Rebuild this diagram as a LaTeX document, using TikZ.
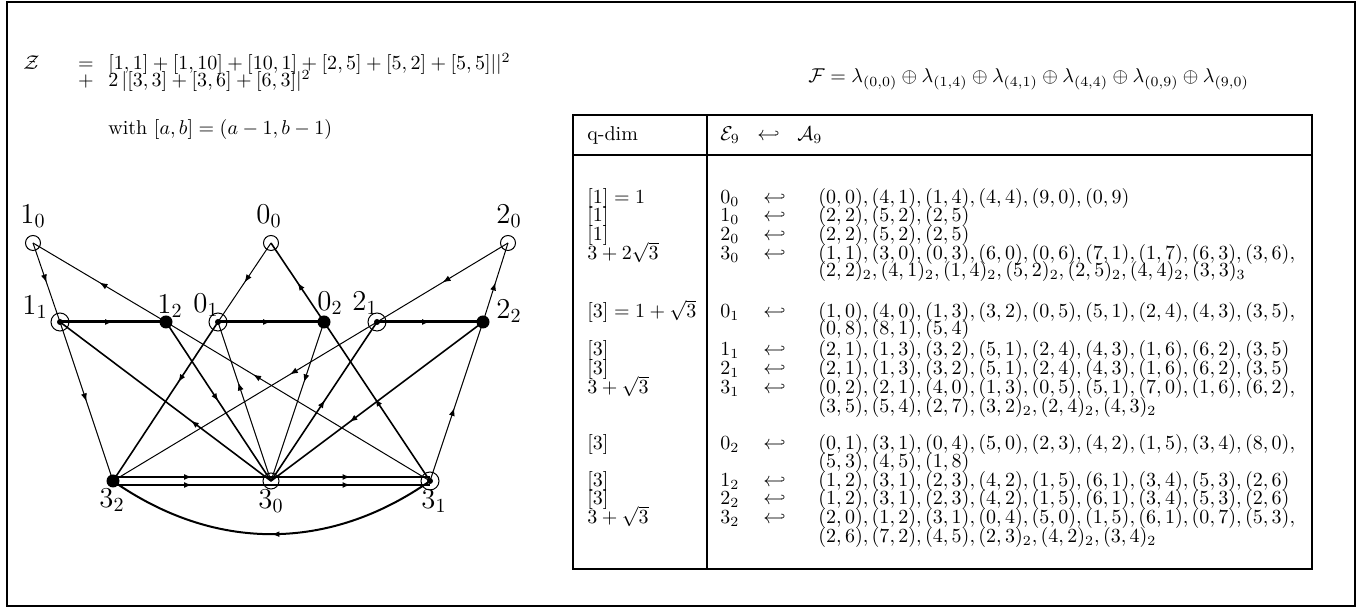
\documentclass[tikz,border=0pt]{standalone}
\usepackage{amsmath,amssymb}
\usetikzlibrary{arrows.meta,decorations.markings}

\tikzset{
  ring/.style={circle,draw,line width=0.5pt,minimum size=7.5pt,inner sep=0pt},
  ringdot/.style={ring,minimum size=9pt,
    path picture={\fill (path picture bounding box.center) circle (1.5pt);}},
  blob/.style={circle,fill,minimum size=6.5pt,inner sep=0pt},
  lab/.style={font=\Large,inner sep=0pt},
  row/.style={anchor=base west,inner sep=0pt},
  midarrow/.style={decoration={markings,
      mark=at position #1 with {\arrow{Latex[length=4pt,width=3pt]}}},
    postaction={decorate}},
  midarrow/.default=0.5,
  thinedge/.style={line width=0.5pt},
  mededge/.style={line width=0.8pt},
  hedge/.style={line width=1.5pt},
}

\begin{document}
\begin{tikzpicture}[x=0.5pt,y=-0.5pt]
  % Page frame (coordinates are pixels of the figure, y downwards).
  \useasboundingbox (0,0) rectangle (1356,613);
  \draw[line width=1pt] (7,2) rectangle (1355,606);

  % Partition function.
  \node[row] (zlhs) at (23,70) {$\mathcal{Z}$};
  \node[anchor=base,inner sep=0pt] (zeq) at (86,70) {$=$};
  \node[row] (zrhs) at (108,70) {$[1,1]+[1,10]+[10,1]+[2,5]+[5,2]+[5,5]||^2$};
  \node[anchor=base,inner sep=0pt] (zplus) at (86,87) {$+$};
  \node[row] (zrhs2) at (108,87) {$2\,|[3,3]+[3,6]+[6,3]|^2$};
  \node[row] (zwith) at (108,135) {with $[a,b]=(a-1,b-1)$};

  % Vertices of the graph.
  \node[ring] (n10) at (33,243) {};
  \node[ring] (n00) at (271,243) {};
  \node[ring] (n20) at (508,243) {};
  \node[ringdot] (n11) at (60,322) {};
  \node[blob] (n12) at (166,322) {};
  \node[ringdot] (n01) at (218,322) {};
  \node[blob] (n02) at (324,322) {};
  \node[ringdot] (n21) at (377,322) {};
  \node[blob] (n22) at (483,322) {};
  \node[blob] (n32) at (113,481) {};
  \node[ring,minimum size=8pt] (n30) at (271,481) {};
  \node[ringdot] (n31) at (430,481) {};

  % Vertex labels.
  \node[lab] (l10) at (33,216) {$1_0$};
  \node[lab] (l00) at (269,216) {$0_0$};
  \node[lab] (l20) at (509,216) {$2_0$};
  \node[lab] (l11) at (35,307) {$1_1$};
  \node[lab] (l12) at (170,306) {$1_2$};
  \node[lab] (l01) at (206,305) {$0_1$};
  \node[lab] (l02) at (330,303) {$0_2$};
  \node[lab] (l21) at (365,303) {$2_1$};
  \node[lab] (l22) at (509,311) {$2_2$};
  \node[lab] (l32) at (112,500) {$3_2$};
  \node[lab] (l30) at (271,501) {$3_0$};
  \node[lab] (l31) at (434,501) {$3_1$};

  % Top triangles.
  \draw[thinedge,midarrow] (n10.center) -- (n11.center);
  \draw[thinedge,midarrow] (n12.center) -- (n10.center);
  \draw[thinedge,midarrow] (n00.center) -- (n01.center);
  \draw[mededge,midarrow] (n02.center) -- (n00.center);
  \draw[thinedge,midarrow] (n20.center) -- (n21.center);
  \draw[thinedge,midarrow] (n22.center) -- (n20.center);

  % Middle row.
  \draw[hedge,midarrow] (n11.center) -- (n12.center);
  \draw[hedge,midarrow] (n01.center) -- (n02.center);
  \draw[hedge,midarrow] (n21.center) -- (n22.center);

  % Crossing edges to and from the bottom row.
  \draw[thinedge,midarrow] (n11.center) -- (n32.center);
  \draw[mededge,midarrow=0.38] (n01.center) -- (n32.center);
  \draw[thinedge,midarrow=0.33] (n21.center) -- (n32.center);
  \draw[thinedge,midarrow=0.67] (n31.center) -- (n12.center);
  \draw[mededge,midarrow=0.52] (n31.center) -- (n02.center);
  \draw[thinedge,midarrow=0.46] (n31.center) -- (n22.center);
  \draw[mededge,midarrow=0.38] (n30.center) -- (n11.center);
  \draw[mededge,midarrow] (n12.center) -- (n30.center);
  \draw[thinedge,midarrow=0.62] (n30.center) -- (n01.center);
  \draw[thinedge,midarrow=0.38] (n02.center) -- (n30.center);
  \draw[mededge,midarrow=0.51] (n30.center) -- (n21.center);
  \draw[mededge,midarrow=0.63] (n22.center) -- (n30.center);

  % Bottom row: double edges and the return arc.
  \draw[mededge,midarrow] ([yshift=2pt]n32.center) -- ([yshift=2pt]n30.center);
  \draw[mededge,midarrow] ([yshift=-2pt]n32.center) -- ([yshift=-2pt]n30.center);
  \draw[mededge,midarrow] ([yshift=2pt]n30.center) -- ([yshift=2pt]n31.center);
  \draw[mededge,midarrow] ([yshift=-2pt]n30.center) -- ([yshift=-2pt]n31.center);
  \draw[line width=1pt,midarrow] (n31.center) to[bend left=35] (n32.center);

  % Fusion rule.
  \node[row] (frule) at (808,83) {$\mathcal{F}=\lambda_{(0,0)}\oplus\lambda_{(1,4)}\oplus\lambda_{(4,1)}\oplus\lambda_{(4,4)}\oplus\lambda_{(0,9)}\oplus\lambda_{(9,0)}$};

  % Table frame.
  \draw[line width=1.1pt] (573,115) rectangle (1312,569);
  \draw[line width=1.1pt] (573,155) -- (1312,155);
  \draw[line width=1.1pt] (707,115) -- (707,569);

  % Table header.
  \node[row] (hq) at (587,141) {q-dim};
  \node[row] (he) at (720,141) {$\mathcal{E}_9$};
  \node[row] (ha) at (757,141) {$\hookleftarrow$};
  \node[row] (hA) at (797,141) {$\mathcal{A}_9$};

  % Table rows with an entry in every column.
  \foreach \yy/\qd/\ee/\aa in {
    204/{$[1]=1$}/{$0_0$}/{$(0,0),(4,1),(1,4),(4,4),(9,0),(0,9)$},
    222/{$[1]$}/{$1_0$}/{$(2,2),(5,2),(2,5)$},
    241/{$[1]$}/{$2_0$}/{$(2,2),(5,2),(2,5)$},
    260/{$3+2\sqrt{3}$}/{$3_0$}/{$(1,1),(3,0),(0,3),(6,0),(0,6),(7,1),(1,7),(6,3),(3,6),$},
    318/{$[3]=1+\sqrt{3}$}/{$0_1$}/{$(1,0),(4,0),(1,3),(3,2),(0,5),(5,1),(2,4),(4,3),(3,5),$},
    356/{$[3]$}/{$1_1$}/{$(2,1),(1,3),(3,2),(5,1),(2,4),(4,3),(1,6),(6,2),(3,5)$},
    375/{$[3]$}/{$2_1$}/{$(2,1),(1,3),(3,2),(5,1),(2,4),(4,3),(1,6),(6,2),(3,5)$},
    394/{$3+\sqrt{3}$}/{$3_1$}/{$(0,2),(2,1),(4,0),(1,3),(0,5),(5,1),(7,0),(1,6),(6,2),$},
    450/{$[3]$}/{$0_2$}/{$(0,1),(3,1),(0,4),(5,0),(2,3),(4,2),(1,5),(3,4),(8,0),$},
    487/{$[3]$}/{$1_2$}/{$(1,2),(3,1),(2,3),(4,2),(1,5),(6,1),(3,4),(5,3),(2,6)$},
    505/{$[3]$}/{$2_2$}/{$(1,2),(3,1),(2,3),(4,2),(1,5),(6,1),(3,4),(5,3),(2,6)$},
    524/{$3+\sqrt{3}$}/{$3_2$}/{$(2,0),(1,2),(3,1),(0,4),(5,0),(1,5),(6,1),(0,7),(5,3),$}%
  }{
    \node[row] (q\yy) at (587,\yy) {\qd};
    \node[row] (e\yy) at (720,\yy) {\ee};
    \node[row] (h\yy) at (763,\yy) {$\hookleftarrow$};
    \node[row] (a\yy) at (818,\yy) {\aa};
  }

  % Continuation lines of the long rows.
  \foreach \yy/\aa in {
    277/{$(2,2)_2,(4,1)_2,(1,4)_2,(5,2)_2,(2,5)_2,(4,4)_2,(3,3)_3$},
    335/{$(0,8),(8,1),(5,4)$},
    413/{$(3,5),(5,4),(2,7),(3,2)_2,(2,4)_2,(4,3)_2$},
    468/{$(5,3),(4,5),(1,8)$},
    543/{$(2,6),(7,2),(4,5),(2,3)_2,(4,2)_2,(3,4)_2$}%
  }{
    \node[row] (c\yy) at (818,\yy) {\aa};
  }
\end{tikzpicture}
\end{document}
